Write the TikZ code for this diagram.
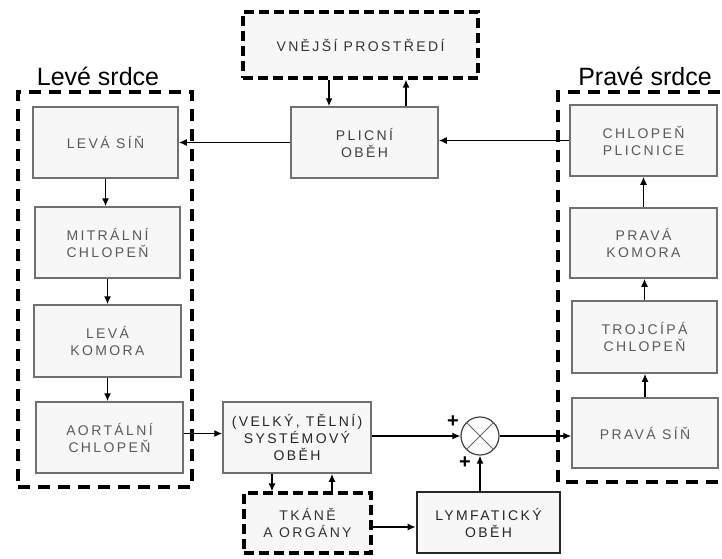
\documentclass[tikz,border=0pt]{standalone}
\usepackage{fontspec}
\setmainfont{Liberation Sans}
\newfontfamily\boxfont[LetterSpace=17]{Liberation Sans}
\usetikzlibrary{arrows.meta}
\definecolor{boxtxt}{HTML}{5A5A5A}
\definecolor{boxline}{HTML}{707070}
\definecolor{boxfill}{HTML}{F7F7F7}
\tikzset{
  blk/.style={draw=boxline,fill=boxfill,line width=1.5pt,align=center,
    text=boxtxt,font=\boxfont\fontsize{14}{17}\selectfont,inner sep=0pt},
  grp/.style={draw=black,line width=3.5pt,dash pattern=on 12pt off 8pt},
  dbox/.style={blk,draw=black,line width=3.2pt,dash pattern=on 10pt off 5pt,text=black!80},
  arr/.style={line width=1.4pt,-{Latex[length=8pt,width=7pt]}},
  lbl/.style={font=\fontsize{25}{28}\selectfont,text=black,inner sep=0pt},
  plus/.style={font=\bfseries\fontsize{20}{20}\selectfont,inner sep=0pt}
}
\begin{document}
\begin{tikzpicture}[x=1pt,y=-1pt]
\useasboundingbox (0,0) rectangle (722,558);
% groups
\node[grp,minimum width=174pt,minimum height=395pt,inner sep=0pt] (lgrp) at (105,289.5) {};
\draw[grp] (740,92) -- (558,92) -- (558,482) -- (740,482);
\node[lbl] (llbl) at (98,76) {Levé srdce};
\node[lbl] (rlbl) at (645,76) {Pravé srdce};
% boxes
\node[dbox,minimum width=235pt,minimum height=66pt] (vnej) at (360.5,45) {VNĚJŠÍ PROSTŘEDÍ};
\node[blk,minimum width=147pt,minimum height=71pt,text=black!75] (plic) at (364.5,142.5) {PLICNÍ\\OBĚH};
\node[blk,minimum width=145pt,minimum height=71pt] (lsin) at (105.5,142.5) {LEVÁ SÍŇ};
\node[blk,minimum width=145pt,minimum height=71pt] (mitr) at (107.5,242.5) {MITRÁLNÍ\\CHLOPEŇ};
\node[blk,minimum width=147pt,minimum height=72pt] (lkom) at (107.5,341) {LEVÁ\\KOMORA};
\node[blk,minimum width=147pt,minimum height=71pt] (aort) at (109.5,437.5) {AORTÁLNÍ\\CHLOPEŇ};
\node[blk,minimum width=148pt,minimum height=71pt,text=black!85] (syst) at (297,437.5) {(VELKÝ, TĚLNÍ)\\SYSTÉMOVÝ\\OBĚH};
\node[dbox,minimum width=127pt,minimum height=60pt] (tkan) at (307.5,523) {TKÁNĚ\\A ORGÁNY};
\node[blk,draw=black!85,line width=2.6pt,minimum width=143pt,minimum height=61pt,text=black!85] (lymf) at (488.5,522.5) {LYMFATICKÝ\\OBĚH};
\node[draw=black!75,fill=white,circle,minimum size=38pt,inner sep=0pt,line width=1.2pt] (sum) at (480,436) {};
\node[blk,minimum width=146pt,minimum height=70pt] (psin) at (645,433) {PRAVÁ SÍŇ};
\node[blk,minimum width=145pt,minimum height=72pt] (troj) at (644.5,337) {TROJCÍPÁ\\CHLOPEŇ};
\node[blk,minimum width=147pt,minimum height=70pt] (pkom) at (643.5,243) {PRAVÁ\\KOMORA};
\node[blk,minimum width=147pt,minimum height=71pt] (chpl) at (643.5,140.5) {CHLOPEŇ\\PLICNICE};
\node[plus] (p1) at (453,422) {+};
\node[plus] (p2) at (465,463) {+};
% summing cross
\draw[line width=1pt,draw=black!60] (sum.45) -- (sum.225) (sum.135) -- (sum.315);
% connectors
\coordinate (tk) at ([yshift=-4pt]tkan.east);
\draw[arr] ([xshift=-35.5pt]plic.north |- vnej.south) -- ([xshift=-35.5pt]plic.north);
\draw[arr] ([xshift=41.5pt]plic.north) -- ([xshift=41.5pt]plic.north |- vnej.south);
\draw[arr] (plic.west) -- (lsin.east);
\draw[arr] (chpl.west) -- (plic.east |- chpl.west);
\draw[arr] (lsin.south) -- (lsin.south |- mitr.north);
\draw[arr] (mitr.south) -- (mitr.south |- lkom.north);
\draw[arr] (lkom.south) -- (lkom.south |- aort.north);
\draw[arr] ([yshift=4pt]aort.east) -- ([yshift=4pt]syst.west);
\draw[arr] ([xshift=-25pt]syst.south) -- ([xshift=-25pt]syst.south |- tkan.north);
\draw[arr] ([xshift=35pt]syst.south |- tkan.north) -- ([xshift=35pt]syst.south);
\draw[arr] (tk) -- (lymf.west |- tk);
\draw[arr] (syst.east |- sum.west) -- (sum.west);
\draw[arr] (sum.south |- lymf.north) -- (sum.south);
\draw[arr] (sum.east) -- (psin.west |- sum.east);
\draw[arr] (psin.north) -- (psin.north |- troj.south);
\draw[arr] (troj.north) -- (troj.north |- pkom.south);
\draw[arr] (pkom.north) -- (pkom.north |- chpl.south);
\end{tikzpicture}
\end{document}
